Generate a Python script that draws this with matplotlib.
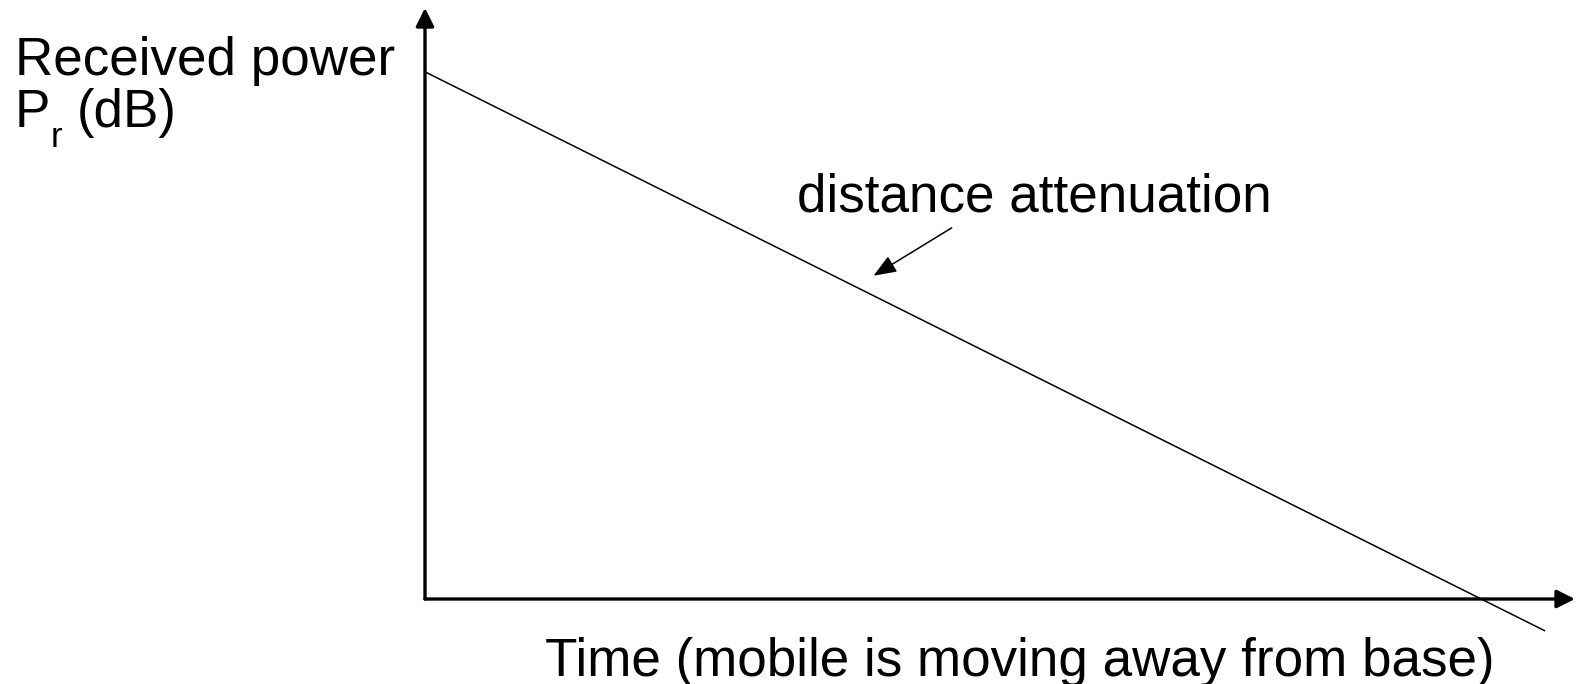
import matplotlib.pyplot as plt

plt.rcParams["font.family"] = ["Liberation Sans", "DejaVu Sans"]

# received power falls off linearly (in dB) as the mobile moves away
time = [0.0, 9.74]
power_db = [8.92, -0.54]

# point on the line the label arrow points at
label_target = (3.90, 5.47)
label_tail = (4.58, 6.28)

W, H, DPI = 1577, 684, 100
fig = plt.figure(figsize=(W / DPI, H / DPI), dpi=DPI)

# axes box in pixels: origin (425, 599), arrow tips at x=1575 and y=8
left, bottom = 425 / W, (H - 599) / H
ax = fig.add_axes([left, bottom, 1150 / W, 591 / H])
ax.set_xlim(0, 10)
ax.set_ylim(0, 10)
ax.axis("off")

ax.plot(time, power_db, color="black", lw=1.1, clip_on=False, solid_capstyle="butt")

axis_arrow = dict(arrowstyle="-|>,head_length=1.1,head_width=0.55",
                  mutation_scale=10, color="black", lw=2.4,
                  shrinkA=0, shrinkB=0)
ax.annotate("", xy=(1, 0), xytext=(0, 0), xycoords="axes fraction",
            arrowprops=axis_arrow, annotation_clip=False)
ax.annotate("", xy=(0, 1), xytext=(0, 0), xycoords="axes fraction",
            arrowprops=axis_arrow, annotation_clip=False)

ax.annotate("", xy=label_target, xytext=label_tail,
            arrowprops=dict(arrowstyle="-|>,head_length=1.4,head_width=0.55",
                            mutation_scale=10, color="black", lw=1.1,
                            shrinkA=0, shrinkB=0))


def put(x, y, s, size=38.2, ha="left"):
    # x, y are pixel positions (y from the top, at the text baseline)
    fig.text(x / W, 1 - y / H, s, fontsize=size, ha=ha, va="baseline")


put(15, 75.5, "Received power")
put(15, 127, "P")
put(50.5, 147, "r", size=25)
put(77, 127, "(dB)")
put(1034, 211, "distance attenuation", ha="center")
put(1020, 676, "Time (mobile is moving away from base)", ha="center")

fig.savefig("out.png", dpi=DPI)
